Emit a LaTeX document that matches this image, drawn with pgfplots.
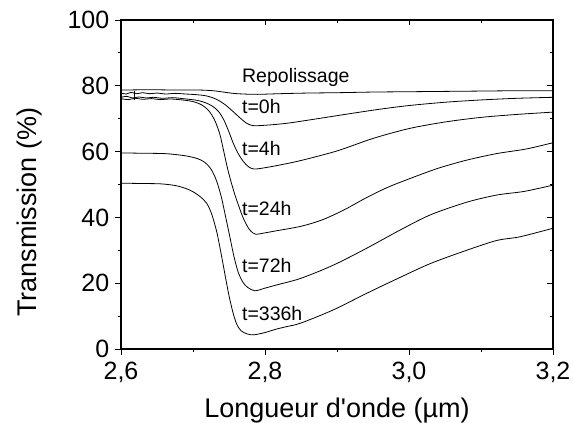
\documentclass[border=0pt]{standalone}
\usepackage{fontspec}
\setmainfont{Liberation Sans}
\usepackage{pgfplots}
\pgfplotsset{compat=1.18}
\begin{document}
\begin{tikzpicture}[x=1pt,y=1pt]
\useasboundingbox (-121,-74) rectangle (452,349);
\pgfplotsset{
  base/.style={
    at={(0,0)}, anchor=south west,
    scale only axis, width=432pt, height=329pt,
    xmin=2.6, xmax=3.2, ymin=0, ymax=100,
    axis line style={line width=1.1pt},
    major tick length=5.5pt, minor tick length=3pt,
    every tick/.style={line width=0.9pt, black},
    xtick={2.6,2.8,3.0,3.2}, ytick={0,20,...,100},
    minor x tick num=1, minor y tick num=1,
  },
  curve/.style={black, line width=0.8pt, smooth, tension=0.5, mark=none},
}
\begin{axis}[base,
  xtick pos=left, ytick pos=left, tick align=outside,
  /pgf/number format/assume math mode=true,
  tick label style={font=\fontsize{25}{25}\selectfont, inner sep=0pt},
  x tick label style={yshift=-7pt, /pgf/number format/.cd, fixed, fixed zerofill, precision=1, use comma},
  y tick label style={xshift=-6pt},
  label style={font=\fontsize{27}{27}\selectfont, inner sep=0pt},
  xlabel={Longueur d\textquotesingle onde (µm)},
  ylabel={Transmission (\%)},
  xlabel style={at={(axis description cs:0.5,0)}, anchor=base, yshift=-68pt},
  ylabel style={at={(axis description cs:0,0.416)}, anchor=north, yshift=104pt},
]
% Repolissage
\addplot[curve] coordinates {(2.600,78.7)(2.640,78.8)(2.680,78.7)(2.710,78.7)(2.728,78.5)(2.742,78.1)(2.756,77.7)(2.770,77.5)(2.790,77.4)(2.820,77.6)(2.860,77.8)(2.900,77.9)(2.950,78.1)(3.000,78.2)(3.050,78.3)(3.100,78.4)(3.150,78.5)(3.200,78.5)};
% t=0h
\addplot[curve] coordinates {(2.600,77.8)(2.607,77.5)(2.614,78.0)(2.622,77.6)(2.630,77.9)(2.640,77.6)(2.650,77.8)(2.662,77.5)(2.675,77.7)(2.690,77.5)(2.705,77.3)(2.717,77.0)(2.727,76.4)(2.736,75.5)(2.745,74.2)(2.755,72.3)(2.765,70.3)(2.774,68.7)(2.783,67.9)(2.800,68.0)(2.830,68.6)(2.870,69.9)(2.920,71.6)(2.960,72.9)(3.000,74.0)(3.050,75.0)(3.100,75.7)(3.150,76.2)(3.200,76.5)};
% t=4h
\addplot[curve] coordinates {(2.600,76.5)(2.608,76.8)(2.616,76.3)(2.625,76.6)(2.635,76.3)(2.645,76.5)(2.658,76.2)(2.672,76.4)(2.690,76.0)(2.705,75.6)(2.717,74.9)(2.727,73.8)(2.735,72.3)(2.742,70.0)(2.749,66.5)(2.756,62.5)(2.763,59.3)(2.770,57.0)(2.777,55.4)(2.785,54.7)(2.800,55.1)(2.820,55.9)(2.850,57.3)(2.900,60.2)(2.950,64.0)(3.000,67.0)(3.050,69.0)(3.100,70.4)(3.150,71.3)(3.200,72.0)};
% t=24h
\addplot[curve] coordinates {(2.600,76.1)(2.610,75.8)(2.620,76.2)(2.630,75.9)(2.642,76.1)(2.655,75.8)(2.668,76.0)(2.685,75.7)(2.700,75.2)(2.712,74.2)(2.722,72.4)(2.730,69.6)(2.737,65.5)(2.742,60.8)(2.747,55.8)(2.752,51.5)(2.758,47.0)(2.763,43.8)(2.769,40.2)(2.775,37.5)(2.780,35.9)(2.787,34.9)(2.800,35.3)(2.815,35.9)(2.850,37.3)(2.880,39.3)(2.910,42.3)(2.940,45.9)(2.970,49.1)(3.000,51.7)(3.040,54.9)(3.080,57.4)(3.122,59.4)(3.163,60.8)(3.200,62.7)};
% t=72h
\addplot[curve] coordinates {(2.600,59.6)(2.630,59.5)(2.660,59.4)(2.680,59.0)(2.695,58.5)(2.707,57.8)(2.716,56.8)(2.724,55.0)(2.730,52.6)(2.735,49.6)(2.740,45.6)(2.745,40.5)(2.751,34.3)(2.757,28.0)(2.763,23.2)(2.769,20.4)(2.776,18.7)(2.786,17.7)(2.800,18.5)(2.815,19.4)(2.850,21.5)(2.895,25.5)(2.941,30.6)(2.988,36.2)(3.030,40.8)(3.080,44.6)(3.122,46.8)(3.160,47.9)(3.200,49.8)};
% t=336h
\addplot[curve] coordinates {(2.600,50.4)(2.630,50.3)(2.655,50.2)(2.675,49.7)(2.690,48.8)(2.700,47.8)(2.710,46.3)(2.719,44.3)(2.726,41.0)(2.733,35.6)(2.738,30.2)(2.742,25.5)(2.747,19.6)(2.751,15.2)(2.756,10.7)(2.761,7.4)(2.767,5.5)(2.775,4.6)(2.784,4.3)(2.800,5.0)(2.815,6.0)(2.830,6.8)(2.850,7.9)(2.895,11.9)(2.941,16.9)(2.988,21.8)(3.030,26.0)(3.080,30.0)(3.122,33.0)(3.154,34.1)(3.200,36.7)};
% glitch in the measurement
\addplot[black, line width=0.8pt] coordinates {(2.618,75.6)(2.618,78.4)};

\begin{scope}[every node/.style={anchor=base west, inner sep=0pt, font=\fontsize{19.5}{19.5}\selectfont}]
\node at (axis cs:2.768,80.9) {Repolissage};
\node at (axis cs:2.768,71.6) {t=0h};
\node at (axis cs:2.768,58.8) {t=4h};
\node at (axis cs:2.768,40.7) {t=24h};
\node at (axis cs:2.768,23.2) {t=72h};
\node at (axis cs:2.768,8.6) {t=336h};
\end{scope}
\end{axis}

\begin{axis}[base,
  xtick pos=right, ytick pos=right, tick align=inside,
  xticklabels={}, yticklabels={},
]
\end{axis}
\end{tikzpicture}
\end{document}
